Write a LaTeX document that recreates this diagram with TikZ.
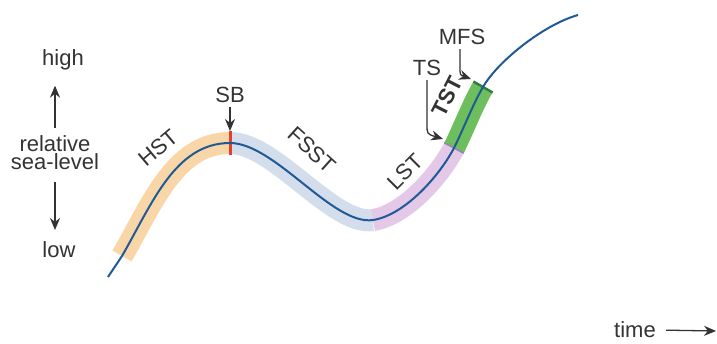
\documentclass[tikz,border=0pt]{standalone}
\usepackage{fontspec}
\setmainfont{Liberation Sans}
\usetikzlibrary{arrows.meta}

\definecolor{curveblue}{HTML}{1F5A96}
\definecolor{hstorange}{HTML}{F9D6A8}
\definecolor{fsstblue}{HTML}{D3DDEC}
\definecolor{lstpurple}{HTML}{E4C8E8}
\definecolor{tstgreen}{HTML}{6DBE5C}
\definecolor{mfsgreen}{HTML}{2E7D3C}
\definecolor{tsline}{HTML}{9C84B0}
\definecolor{sbred}{HTML}{E0402E}
\definecolor{labelgrey}{HTML}{333333}

\tikzset{
  band/.style={line width=11pt, line cap=butt},
  lbl/.style={text=labelgrey, inner sep=0pt, font=\fontsize{11}{9}\selectfont},
  pointer/.style={draw=labelgrey, line width=0.65pt, -{Stealth[length=6pt,width=5pt]}},
}

\begin{document}
\begin{tikzpicture}[x=0.5pt,y=-0.5pt]
\useasboundingbox (0,0) rectangle (717,343);

% points on the sea-level curve
\coordinate (p0) at (108,277);
\coordinate (p1) at (122,256);
\coordinate (sbpt) at (230,143);
\coordinate (p3) at (373,220);
\coordinate (tspt) at (454,148);
\coordinate (mfspt) at (483,87);
\coordinate (p6) at (578,15);

% systems tracts
\draw [band, hstorange] (p1) .. controls (152,204) and (175,143) .. (sbpt);
\draw [band, fsstblue] (sbpt) .. controls (275,143) and (333,226) .. (p3);
\draw [band, lstpurple] (p3) .. controls (403,215.5) and (437.5,179) .. (tspt);
\draw [band, tstgreen] (tspt) .. controls (463,130) and (473,104) .. (mfspt);

% surfaces
\coordinate (sbtop) at (230,131);
\coordinate (sbbot) at (230,155);
\draw [sbred, line width=1.5pt] (sbtop) -- (sbbot);
\draw [tsline, line width=0.8pt] (444.3,142.8) -- (463.7,153.2);
\draw [mfsgreen, line width=1.2pt] (473.4,81.5) -- (492.6,92.5);

% relative sea-level curve
\draw [curveblue, line width=1pt] (p0) -- (p1)
  .. controls (152,204) and (175,143) .. (sbpt)
  .. controls (275,143) and (333,226) .. (p3)
  .. controls (403,215.5) and (437.5,179) .. (tspt)
  .. controls (463,130) and (473,104) .. (mfspt)
  .. controls (498,61) and (544,24.5) .. (p6);

% axis labels
\node [lbl] (high) at (63,60) {high};
\node [lbl, align=center] (rsl) at (55,153) {relative\\sea-level};
\node [lbl] (low) at (59,250) {low};
\draw [pointer, shorten <=3.75pt, shorten >=7.5pt] (rsl.north) -- (rsl.north |- high.south);
\draw [pointer, shorten <=5.75pt, shorten >=5.75pt] (rsl.south) -- (rsl.south |- low.north);

\node [lbl] (time) at (635,330) {time};
\coordinate (timeend) at (716,331);
\draw [pointer, shorten <=5pt] (time.east) -- (timeend);

% tract labels
\node [lbl, rotate=40] (hst) at (158,148) {HST};
\node [lbl, rotate=-42] (fsst) at (312,150) {FSST};
\node [lbl, rotate=45] (lst) at (405,172) {LST};
\node [lbl, rotate=63, font=\fontsize{11}{9}\selectfont\bfseries] (tst) at (447,97) {TST};

% surface labels
\node [lbl] (sb) at (230,95) {SB};
\draw [pointer, shorten <=2pt] (sb.south) -- (sbtop);

\node [lbl] (ts) at (427,68) {TS};
\coordinate (tsbend) at (427,124);
\coordinate (tstip) at (443,139);
\draw [pointer, shorten <=2pt] (ts.south) -- (tsbend) .. controls +(0,10) .. (tstip);

\node [lbl] (mfs) at (462,37) {MFS};
\coordinate (mfsbend) at (460,67);
\coordinate (mfstip) at (471,79);
\draw [pointer, shorten <=2pt] (mfs.south -| mfsbend) -- (mfsbend) .. controls +(0,8) .. (mfstip);
\end{tikzpicture}
\end{document}
